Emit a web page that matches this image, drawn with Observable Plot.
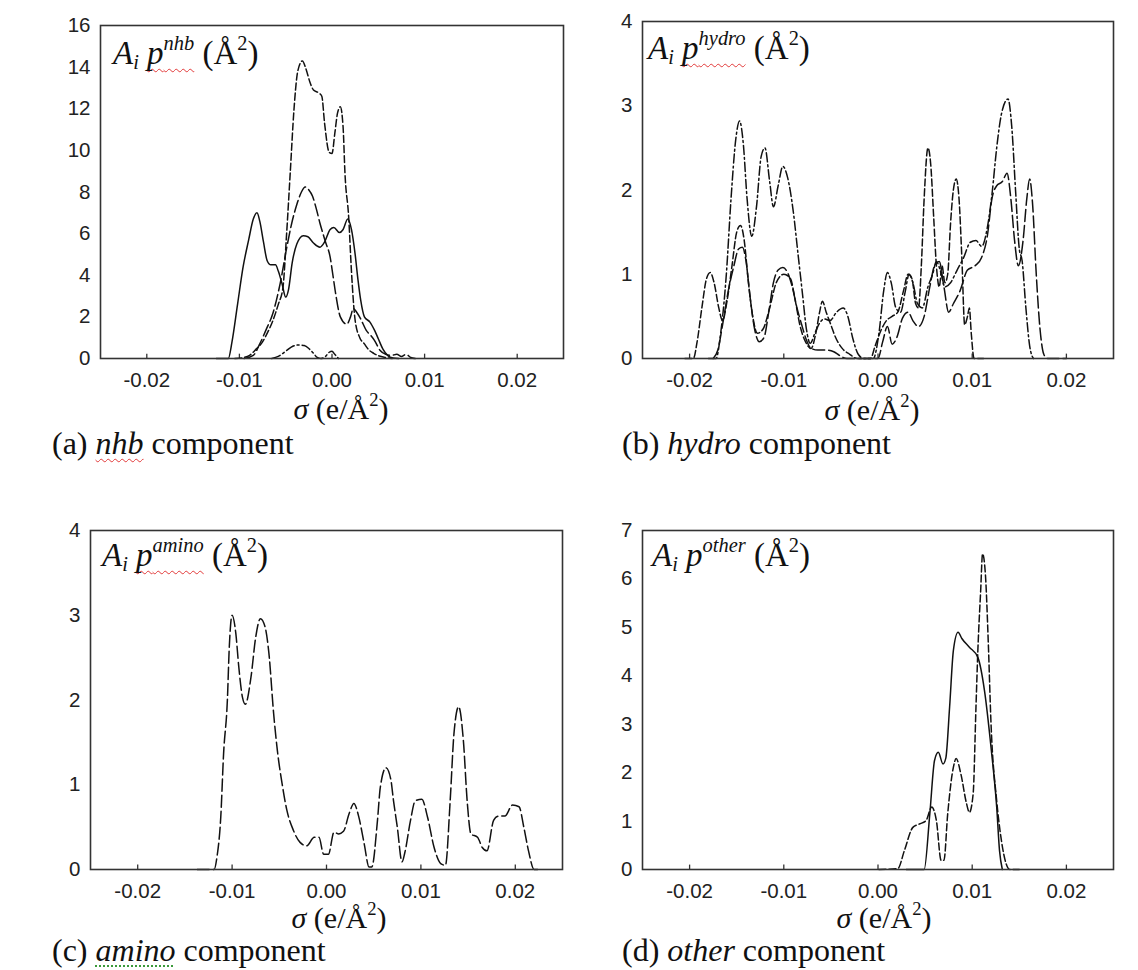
<!DOCTYPE html>
<html>
<head>
<meta charset="utf-8">
<script src="https://cdn.jsdelivr.net/npm/d3@7"></script>
<script src="https://cdn.jsdelivr.net/npm/@observablehq/plot@0.6"></script>
<style>
  html, body { margin: 0; padding: 0; background: #fff; }
  #root { position: relative; width: 1138px; height: 970px; overflow: hidden; background: #fff; }
  .panel { position: absolute; }
  .serif { position: absolute; font-family: "Liberation Serif", "Times New Roman", serif; color: #111; white-space: nowrap; line-height: 0.9; }
  .ylab { font-size: 33px; }
  .xlab { font-size: 30px; transform: translateX(-50%); }
  .cap { font-size: 32px; }
  .sup { font-size: 0.62em; position: relative; top: -0.7em; }
  .sub { font-size: 0.62em; position: relative; top: 0.22em; }
  .wavy { text-decoration: underline wavy #e23a3a; text-decoration-thickness: 1px; text-underline-offset: 4px; text-decoration-skip-ink: none; }
  .dotted { text-decoration: underline dotted #3a9a3a; text-decoration-thickness: 1.5px; text-underline-offset: 4px; }
</style>
</head>
<body>
<div id="root">
  <div id="pa" class="panel" style="left:40px;top:5px"></div>
  <div id="pb" class="panel" style="left:590px;top:5px"></div>
  <div id="pc" class="panel" style="left:30px;top:510px"></div>
  <div id="pd" class="panel" style="left:590px;top:510px"></div>

  <div class="serif ylab" style="left:113px;top:39px"><i>A</i><i class="sub">i</i> <span class="wavy"><i>p</i><i class="sup">nhb</i></span> (Å<span class="sup">2</span>)</div>
  <div class="serif ylab" style="left:648px;top:34px"><i>A</i><i class="sub">i</i> <span class="wavy"><i>p</i><i class="sup">hydro</i></span> (Å<span class="sup">2</span>)</div>
  <div class="serif ylab" style="left:102px;top:541px"><i>A</i><i class="sub">i</i> <span class="wavy"><i>p</i><i class="sup">amino</i></span> (Å<span class="sup">2</span>)</div>
  <div class="serif ylab" style="left:652px;top:541px"><i>A</i><i class="sub">i</i> <i>p</i><i class="sup">other</i> (Å<span class="sup">2</span>)</div>

  <div class="serif xlab" style="left:341px;top:395px"><i>σ</i> (e/Å<span class="sup">2</span>)</div>
  <div class="serif xlab" style="left:872px;top:396px"><i>σ</i> (e/Å<span class="sup">2</span>)</div>
  <div class="serif xlab" style="left:339px;top:904px"><i>σ</i> (e/Å<span class="sup">2</span>)</div>
  <div class="serif xlab" style="left:884px;top:904px"><i>σ</i> (e/Å<span class="sup">2</span>)</div>

  <div class="serif cap" style="left:52px;top:429px">(a) <i class="wavy">nhb</i> component</div>
  <div class="serif cap" style="left:622px;top:429px">(b) <i>hydro</i> component</div>
  <div class="serif cap" style="left:52px;top:936px">(c) <i class="dotted">amino</i> component</div>
  <div class="serif cap" style="left:622px;top:936px">(d) <i>other</i> component</div>
</div>
<script>
// ---------- tick values / labels ----------
const xTicks = [-0.02, -0.01, 0, 0.01, 0.02];
const xTickLabels = ["-0.02", "-0.01", "0.00", "0.01", "0.02"];
const nhbYTicks = [0, 2, 4, 6, 8, 10, 12, 14, 16];
const hydroYTicks = [0, 1, 2, 3, 4];
const aminoYTicks = [0, 1, 2, 3, 4];
const otherYTicks = [0, 1, 2, 3, 4, 5, 6, 7];

// ---------- (a) nhb component: [sigma, A_i p] ----------
const nhbSolid = [[-0.0125,0],[-0.0112,0],[-0.0108,0.8],[-0.0102,2.6],[-0.0096,4.4],[-0.0090,5.7],[-0.0085,6.7],[-0.0081,7.0],[-0.0078,6.6],[-0.0074,5.6],[-0.0070,4.7],[-0.0066,4.5],[-0.0061,4.5],[-0.0058,4.2],[-0.0054,3.6],[-0.0050,2.95],[-0.0047,3.3],[-0.0043,4.6],[-0.0038,5.5],[-0.0031,5.9],[-0.0026,5.85],[-0.0020,5.55],[-0.0013,5.35],[-0.0008,5.6],[-0.0002,6.2],[0.0002,6.3],[0.0008,6.05],[0.0012,6.2],[0.0017,6.7],[0.0021,6.2],[0.0025,5.0],[0.0028,3.8],[0.0031,2.8],[0.0035,2.0],[0.0041,1.75],[0.0046,1.35],[0.0050,0.95],[0.0055,0.45],[0.0060,0.15],[0.0066,0.02],[0.0072,0]];
const nhbDashed = [[-0.0105,0],[-0.0095,0.05],[-0.0089,0.15],[-0.0082,0.45],[-0.0075,0.8],[-0.0069,1.3],[-0.0064,1.8],[-0.0058,2.6],[-0.0053,3.4],[-0.0049,6.0],[-0.0045,9.0],[-0.0041,12.0],[-0.0037,13.8],[-0.0032,14.3],[-0.0028,13.9],[-0.0024,13.3],[-0.0020,12.9],[-0.0014,12.75],[-0.0011,12.6],[-0.0008,11.3],[-0.0003,9.9],[0.0000,9.85],[0.0003,10.8],[0.0006,11.8],[0.0009,12.1],[0.0012,11.1],[0.0014,8.9],[0.0018,6.8],[0.0021,4.2],[0.0025,1.83],[0.0030,1.0],[0.0035,0.7],[0.0039,0.45],[0.0045,0.25],[0.0051,0.12],[0.0058,0.05],[0.0065,0]];
const nhbLongDash = [[-0.0095,0],[-0.0085,0.15],[-0.0078,0.7],[-0.0071,1.4],[-0.0064,2.15],[-0.0056,3.6],[-0.0049,5.3],[-0.0044,6.4],[-0.0038,7.4],[-0.0033,8.0],[-0.0029,8.24],[-0.0025,8.1],[-0.0021,7.8],[-0.0017,7.2],[-0.0013,6.5],[-0.0007,5.6],[-0.0002,4.87],[0.0001,4.0],[0.0004,3.1],[0.0009,2.0],[0.0016,1.65],[0.0020,2.0],[0.0023,2.4],[0.0027,2.2],[0.0031,1.9],[0.0037,1.35],[0.0042,1.1],[0.0046,0.86],[0.0052,0.38],[0.0058,0.2],[0.0064,0.15],[0.0070,0.2],[0.0075,0.1],[0.0080,0.2],[0.0085,0.05],[0.0090,0]];
const nhbDashDot = [[-0.0065,0],[-0.0058,0.1],[-0.0050,0.35],[-0.0044,0.55],[-0.0036,0.65],[-0.0030,0.62],[-0.0025,0.48],[-0.0020,0.25],[-0.0016,0.05],[-0.0012,0],[-0.0007,0.1],[-0.0003,0.3],[0.0000,0.35],[0.0003,0.2],[0.0007,0]];

// ---------- (b) hydro component ----------
const hydroDashDot = [[-0.0180,0],[-0.0172,0],[-0.0167,0.3],[-0.0161,1.0],[-0.0156,1.9],[-0.0151,2.6],[-0.0147,2.82],[-0.0143,2.55],[-0.0139,1.9],[-0.0134,1.45],[-0.0129,1.8],[-0.0124,2.4],[-0.0120,2.5],[-0.0115,2.1],[-0.0111,1.8],[-0.0106,2.05],[-0.0101,2.28],[-0.0096,2.15],[-0.0090,1.75],[-0.0085,1.25],[-0.0080,0.75],[-0.0076,0.35],[-0.0072,0.18],[-0.0067,0.3],[-0.0062,0.42],[-0.0057,0.47],[-0.0051,0.45],[-0.0044,0.55],[-0.0037,0.6],[-0.0032,0.5],[-0.0027,0.25],[-0.0021,0.05],[-0.0015,0],[-0.0005,0],[0.0001,0.3],[0.0006,0.8],[0.0010,1.02],[0.0014,0.9],[0.0019,0.6],[0.0024,0.55],[0.0029,0.8],[0.0033,1.0],[0.0037,0.9],[0.0042,0.65],[0.0047,0.6],[0.0053,0.85],[0.0058,1.0],[0.0062,1.15],[0.0066,1.05],[0.0071,0.85],[0.0077,0.9],[0.0084,1.05],[0.0091,1.2],[0.0098,1.38],[0.0104,1.4],[0.0110,1.33],[0.0116,1.55],[0.0121,1.95],[0.0126,2.5],[0.0131,2.9],[0.0138,3.08],[0.0142,2.75],[0.0146,2.0],[0.0150,1.3],[0.0153,1.16],[0.0157,0.6],[0.0161,0.15],[0.0165,0]];
const hydroDashed = [[-0.0205,0],[-0.0196,0],[-0.0192,0.2],[-0.0187,0.6],[-0.0182,0.95],[-0.0178,1.02],[-0.0174,0.9],[-0.0169,0.6],[-0.0165,0.45],[-0.0160,0.7],[-0.0155,1.1],[-0.0150,1.5],[-0.0146,1.58],[-0.0142,1.4],[-0.0138,0.95],[-0.0133,0.5],[-0.0128,0.3],[-0.0122,0.35],[-0.0115,0.6],[-0.0108,0.9],[-0.0100,1.0],[-0.0093,0.95],[-0.0088,0.7],[-0.0083,0.4],[-0.0077,0.2],[-0.0071,0.12],[-0.0066,0.3],[-0.0062,0.55],[-0.0059,0.68],[-0.0055,0.55],[-0.0050,0.4],[-0.0045,0.25],[-0.0038,0.12],[-0.0030,0.05],[-0.0022,0],[-0.0008,0],[-0.0003,0.15],[0.0003,0.33],[0.0009,0.45],[0.0015,0.5],[0.0021,0.55],[0.0027,0.8],[0.0032,1.0],[0.0036,0.95],[0.0040,0.65],[0.0043,0.6],[0.0046,1.1],[0.0049,1.9],[0.0053,2.5],[0.0056,2.3],[0.0059,1.7],[0.0062,1.1],[0.0065,0.85],[0.0068,1.1],[0.0071,0.9],[0.0074,1.0],[0.0077,1.6],[0.0080,2.0],[0.0083,2.13],[0.0086,1.9],[0.0089,1.2],[0.0092,0.4],[0.0095,0.5],[0.0097,0.6],[0.0099,0.3],[0.0102,0],[0.0112,0]];
const hydroLongDash = [[-0.0175,0],[-0.0170,0.1],[-0.0165,0.4],[-0.0159,0.8],[-0.0153,1.1],[-0.0148,1.3],[-0.0144,1.32],[-0.0140,1.15],[-0.0136,0.75],[-0.0131,0.35],[-0.0126,0.2],[-0.0121,0.25],[-0.0116,0.55],[-0.0111,0.9],[-0.0106,1.05],[-0.0101,1.08],[-0.0096,1.02],[-0.0091,0.85],[-0.0086,0.6],[-0.0081,0.4],[-0.0076,0.22],[-0.0071,0.12],[-0.0064,0.1],[-0.0055,0.1],[-0.0047,0.08],[-0.0040,0.03],[-0.0033,0],[0.0000,0],[0.0005,0.2],[0.0010,0.38],[0.0015,0.17],[0.0020,0.25],[0.0026,0.48],[0.0032,0.55],[0.0037,0.45],[0.0043,0.38],[0.0049,0.5],[0.0055,0.85],[0.0060,1.1],[0.0065,1.15],[0.0070,0.85],[0.0075,0.55],[0.0080,0.65],[0.0087,0.8],[0.0095,1.05],[0.0103,1.1],[0.0110,1.2],[0.0116,1.45],[0.0121,1.9],[0.0126,2.05],[0.0132,2.1],[0.0137,2.2],[0.0141,1.9],[0.0145,1.4],[0.0149,1.1],[0.0154,1.4],[0.0158,1.9],[0.0161,2.13],[0.0164,1.85],[0.0168,1.0],[0.0172,0.35],[0.0176,0.05],[0.0180,0],[0.0200,0]];

// ---------- (c) amino component ----------
const aminoDashed = [[-0.0137,0],[-0.0119,0],[-0.0116,0.15],[-0.0112,0.62],[-0.0109,1.37],[-0.0105,2.0],[-0.0103,2.62],[-0.0100,3.0],[-0.0096,2.78],[-0.0093,2.4],[-0.0089,2.03],[-0.0086,1.95],[-0.0080,2.27],[-0.0075,2.74],[-0.0070,2.96],[-0.0065,2.86],[-0.0061,2.55],[-0.0056,1.84],[-0.0052,1.4],[-0.0047,1.01],[-0.0042,0.7],[-0.0035,0.46],[-0.0028,0.32],[-0.0021,0.28],[-0.0013,0.38],[-0.0008,0.38],[-0.0003,0.18],[0.0002,0.18],[0.0008,0.44],[0.0013,0.42],[0.0018,0.45],[0.0024,0.66],[0.0029,0.78],[0.0034,0.63],[0.0040,0.3],[0.0045,0.03],[0.0048,0.03],[0.0054,0.58],[0.0057,0.97],[0.0063,1.2],[0.0068,1.07],[0.0071,0.81],[0.0075,0.5],[0.0080,0.09],[0.0083,0.2],[0.0089,0.58],[0.0094,0.81],[0.0101,0.83],[0.0107,0.62],[0.0114,0.26],[0.0121,0.07],[0.0126,0.05],[0.0131,0.81],[0.0135,1.6],[0.0140,1.92],[0.0145,1.52],[0.0149,0.81],[0.0153,0.42],[0.0160,0.38],[0.0165,0.26],[0.0170,0.22],[0.0177,0.58],[0.0182,0.63],[0.0189,0.63],[0.0197,0.76],[0.0204,0.74],[0.0209,0.5],[0.0214,0.22],[0.0220,0],[0.0225,0]];

// ---------- (d) other component ----------
const otherSolid = [[0.0030,0],[0.0049,0],[0.0055,1.15],[0.0060,2.25],[0.0064,2.42],[0.0069,2.18],[0.0072,2.3],[0.0076,3.35],[0.0080,4.52],[0.0085,4.9],[0.0089,4.77],[0.0097,4.59],[0.0106,4.38],[0.0113,3.7],[0.0120,2.52],[0.0126,1.29],[0.0129,0.39],[0.0132,0]];
const otherDashed = [[0.0001,0],[0.0021,0.02],[0.0028,0.39],[0.0037,0.87],[0.0044,0.94],[0.0051,1.01],[0.0057,1.29],[0.0062,1.01],[0.0067,0.19],[0.0070,0.19],[0.0074,1.15],[0.0080,2.11],[0.0083,2.29],[0.0088,1.97],[0.0094,1.36],[0.0097,1.18],[0.0101,1.56],[0.0104,3.35],[0.0106,4.52],[0.0109,5.76],[0.0111,6.52],[0.0114,6.1],[0.0117,4.73],[0.0120,3.0],[0.0126,1.42],[0.0131,0.6],[0.0136,0.12],[0.0140,0],[0.0150,0]];

// ---------- line styles ----------
const SOLID = null, DASH = "7,3", LONGDASH = "12,4", DASHDOT = "9,3,2,3";

function panel(series, yMax, yTicks, dims) {
  const tickLen = yMax * 0.013;
  return Plot.plot({
    width: dims.width, height: dims.height,
    marginLeft: dims.ml, marginRight: dims.mr, marginTop: dims.mt, marginBottom: dims.mb,
    x: {domain: [-0.025, 0.025]},
    y: {domain: [0, yMax]},
    style: {fontFamily: "'Liberation Sans', Arial, sans-serif", fontSize: "20.5px", color: "#222", background: "transparent", overflow: "visible"},
    marks: [
      Plot.axisX(xTicks, {tickSize: 0, tickPadding: 14, label: null, tickFormat: d => xTickLabels[xTicks.indexOf(d)]}),
      Plot.axisY(yTicks, {tickSize: 0, tickPadding: dims.ypad, label: null, tickFormat: d => String(d)}),
      Plot.ruleX(xTicks, {x: d => d, y1: 0, y2: tickLen, stroke: "#333", strokeWidth: 1.3}),
      ...series.map(s => Plot.line(s.pts, {x: d => d[0], y: d => d[1], stroke: "#111", strokeWidth: 1.5, strokeDasharray: s.dash, curve: "monotone-x"})),
      Plot.frame({stroke: "#333", strokeWidth: 1.6})
    ]
  });
}

document.getElementById("pa").appendChild(panel(
  [{pts: nhbSolid, dash: SOLID}, {pts: nhbDashed, dash: DASH}, {pts: nhbLongDash, dash: LONGDASH}, {pts: nhbDashDot, dash: DASHDOT}],
  16, nhbYTicks, {width: 540, height: 405, ml: 60, mr: 17, mt: 20, mb: 52, ypad: 10}));
document.getElementById("pb").appendChild(panel(
  [{pts: hydroDashDot, dash: DASHDOT}, {pts: hydroDashed, dash: DASH}, {pts: hydroLongDash, dash: LONGDASH}],
  4, hydroYTicks, {width: 540, height: 405, ml: 52, mr: 17, mt: 16, mb: 52, ypad: 10}));
document.getElementById("pc").appendChild(panel(
  [{pts: aminoDashed, dash: LONGDASH}],
  4, aminoYTicks, {width: 550, height: 420, ml: 60, mr: 18, mt: 20, mb: 61, ypad: 10}));
document.getElementById("pd").appendChild(panel(
  [{pts: otherSolid, dash: SOLID}, {pts: otherDashed, dash: DASH}],
  7, otherYTicks, {width: 540, height: 420, ml: 52, mr: 17, mt: 20, mb: 61, ypad: 10}));
</script>
</body>
</html>
